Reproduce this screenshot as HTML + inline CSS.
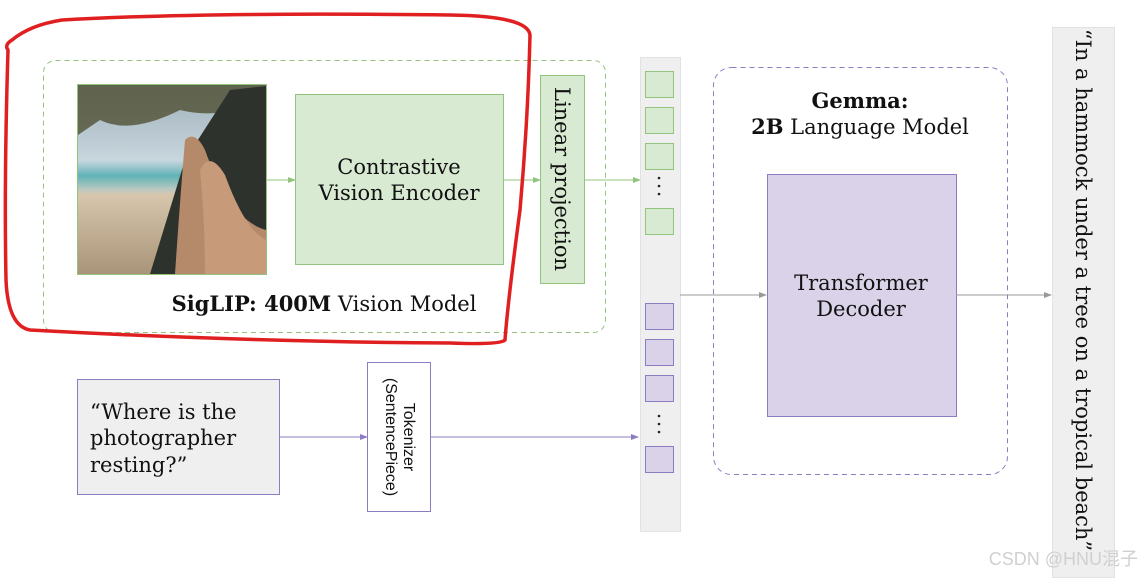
<!DOCTYPE html>
<html><head><meta charset="utf-8"><style>
html,body{margin:0;padding:0;background:#fff;}
svg{display:block;}
.s{font-family:"DejaVu Serif","Liberation Serif",serif;}
</style></head><body>
<svg width="1141" height="578" viewBox="0 0 1141 578" xmlns="http://www.w3.org/2000/svg">
<defs>
<marker id="ag" markerWidth="8" markerHeight="8" refX="7" refY="4" orient="auto" markerUnits="userSpaceOnUse"><path d="M0,1 L8,4 L0,7z" fill="#93c47d"/></marker>
<marker id="ap" markerWidth="8" markerHeight="8" refX="7" refY="4" orient="auto" markerUnits="userSpaceOnUse"><path d="M0,1 L8,4 L0,7z" fill="#8e7cc3"/></marker>
<marker id="ay" markerWidth="8" markerHeight="8" refX="7" refY="4" orient="auto" markerUnits="userSpaceOnUse"><path d="M0,1 L8,4 L0,7z" fill="#999"/></marker>
<linearGradient id="sky" x1="0" y1="0" x2="0" y2="1"><stop offset="0" stop-color="#9fb0b8"/><stop offset="0.4" stop-color="#c8d6de"/><stop offset="0.48" stop-color="#5fb2b6"/><stop offset="0.55" stop-color="#b8c8c0"/><stop offset="0.58" stop-color="#d7c6ad"/><stop offset="1" stop-color="#a89478"/></linearGradient>
</defs>

<rect x="43.5" y="60.5" width="562" height="272" rx="12" fill="none" stroke="#93c47d" stroke-dasharray="5,4"/>
<rect x="77.5" y="84.5" width="189" height="190" fill="url(#sky)" stroke="#93c47d"/>
<path d="M78,85 L266,85 L266,100 Q220,120 180,110 Q130,135 100,120 L78,135z" fill="#4a4a2a" opacity="0.75"/>
<path d="M150,274 L185,160 L230,90 L266,86 L266,274z" fill="#2e322c"/>
<path d="M175,274 Q180,200 185,140 Q195,130 205,150 Q230,220 266,230 L266,274z" fill="#b58a6a"/>
<path d="M205,274 Q205,220 200,170 Q210,150 225,175 Q245,230 266,240 L266,274z" fill="#c79a7a"/>
<rect x="295.5" y="94.5" width="208" height="170" fill="#d9ead3" stroke="#93c47d"/>
<text class="s" x="399" y="174" font-size="21" text-anchor="middle" fill="#111">Contrastive</text>
<text class="s" x="399" y="200" font-size="21" text-anchor="middle" fill="#111">Vision Encoder</text>
<line x1="266" y1="180" x2="295" y2="180" stroke="#93c47d" marker-end="url(#ag)"/>
<line x1="503" y1="180" x2="540" y2="180" stroke="#93c47d" marker-end="url(#ag)"/>
<rect x="540.5" y="75.5" width="44" height="208" fill="#d9ead3" stroke="#93c47d"/>
<text class="s" transform="translate(555,179) rotate(90)" font-size="21" text-anchor="middle" fill="#111">Linear projection</text>
<line x1="584" y1="180" x2="640" y2="180" stroke="#93c47d" marker-end="url(#ag)"/>
<text class="s" x="324" y="311" font-size="21" text-anchor="middle" fill="#111"><tspan font-weight="bold">SigLIP: 400M</tspan> Vision Model</text>

<rect x="640.5" y="57.5" width="40" height="474" fill="#efefef" stroke="#e2e2e2"/>
<g fill="#d9ead3" stroke="#93c47d">
<rect x="645.5" y="71.5" width="28" height="26"/><rect x="645.5" y="107.5" width="28" height="26"/><rect x="645.5" y="143.5" width="28" height="26"/><rect x="645.5" y="208.5" width="28" height="26"/>
</g>
<g fill="#d9d2e9" stroke="#8e7cc3">
<rect x="645.5" y="303.5" width="28" height="26"/><rect x="645.5" y="339.5" width="28" height="26"/><rect x="645.5" y="375.5" width="28" height="26"/><rect x="645.5" y="446.5" width="28" height="26"/>
</g>
<g fill="#222"><circle cx="659" cy="178" r="1.3"/><circle cx="659" cy="186" r="1.3"/><circle cx="659" cy="194" r="1.3"/>
<circle cx="659" cy="416" r="1.3"/><circle cx="659" cy="424" r="1.3"/><circle cx="659" cy="432" r="1.3"/></g>

<rect x="77.5" y="379.5" width="202" height="115" fill="#efefef" stroke="#8e7cc3"/>
<text class="s" x="90" y="419" font-size="21" fill="#111">“Where is the</text>
<text class="s" x="90" y="445" font-size="21" fill="#111">photographer</text>
<text class="s" x="90" y="472" font-size="21" fill="#111">resting?”</text>
<line x1="280" y1="437" x2="367" y2="437" stroke="#8e7cc3" marker-end="url(#ap)"/>
<rect x="367.5" y="362.5" width="63" height="149" fill="#fff" stroke="#8e7cc3"/>
<text transform="translate(404,437) rotate(90)" font-family="Liberation Sans,sans-serif" font-size="16" text-anchor="middle" fill="#111">Tokenizer</text>
<text transform="translate(386,437) rotate(90)" font-family="Liberation Sans,sans-serif" font-size="16" text-anchor="middle" fill="#111">(SentencePiece)</text>
<line x1="431" y1="437" x2="638" y2="437" stroke="#8e7cc3" marker-end="url(#ap)"/>

<rect x="713.5" y="67.5" width="294" height="407" rx="18" fill="none" stroke="#8e7cc3" stroke-dasharray="5,4"/>
<text class="s" x="860" y="108" font-size="21" font-weight="bold" text-anchor="middle" fill="#111">Gemma:</text>
<text class="s" x="860" y="134" font-size="21" text-anchor="middle" fill="#111"><tspan font-weight="bold">2B</tspan> Language Model</text>
<rect x="767.5" y="174.5" width="189" height="242" fill="#d9d2e9" stroke="#8e7cc3"/>
<text class="s" x="861" y="290" font-size="21" text-anchor="middle" fill="#111">Transformer</text>
<text class="s" x="861" y="316" font-size="21" text-anchor="middle" fill="#111">Decoder</text>
<line x1="680" y1="295" x2="766" y2="295" stroke="#999" marker-end="url(#ay)"/>
<line x1="956" y1="295" x2="1051" y2="295" stroke="#999" marker-end="url(#ay)"/>

<rect x="1052.5" y="27.5" width="62" height="550" fill="#efefef" stroke="#e2e2e2"/>
<text class="s" transform="translate(1076,290) rotate(90)" font-size="21" text-anchor="middle" fill="#111">“In a hammock under a tree on a tropical beach”</text>

<path d="M62,20 Q200,12 450,15 Q528,16 530,35 Q528,120 520,210 Q508,300 505,340 Q500,345 450,343 Q250,342 30,330 Q8,326 6,280 Q4,180 8,50 Q4,45 12,40 Q30,25 62,20z" fill="none" stroke="#e02020" stroke-width="3.5" stroke-linejoin="round"/>

<text x="1138" y="565" font-family="Liberation Sans,'Noto Sans CJK SC',sans-serif" font-size="18" text-anchor="end" fill="#d0d0d0">CSDN @HNU混子</text>
</svg>
</body></html>
